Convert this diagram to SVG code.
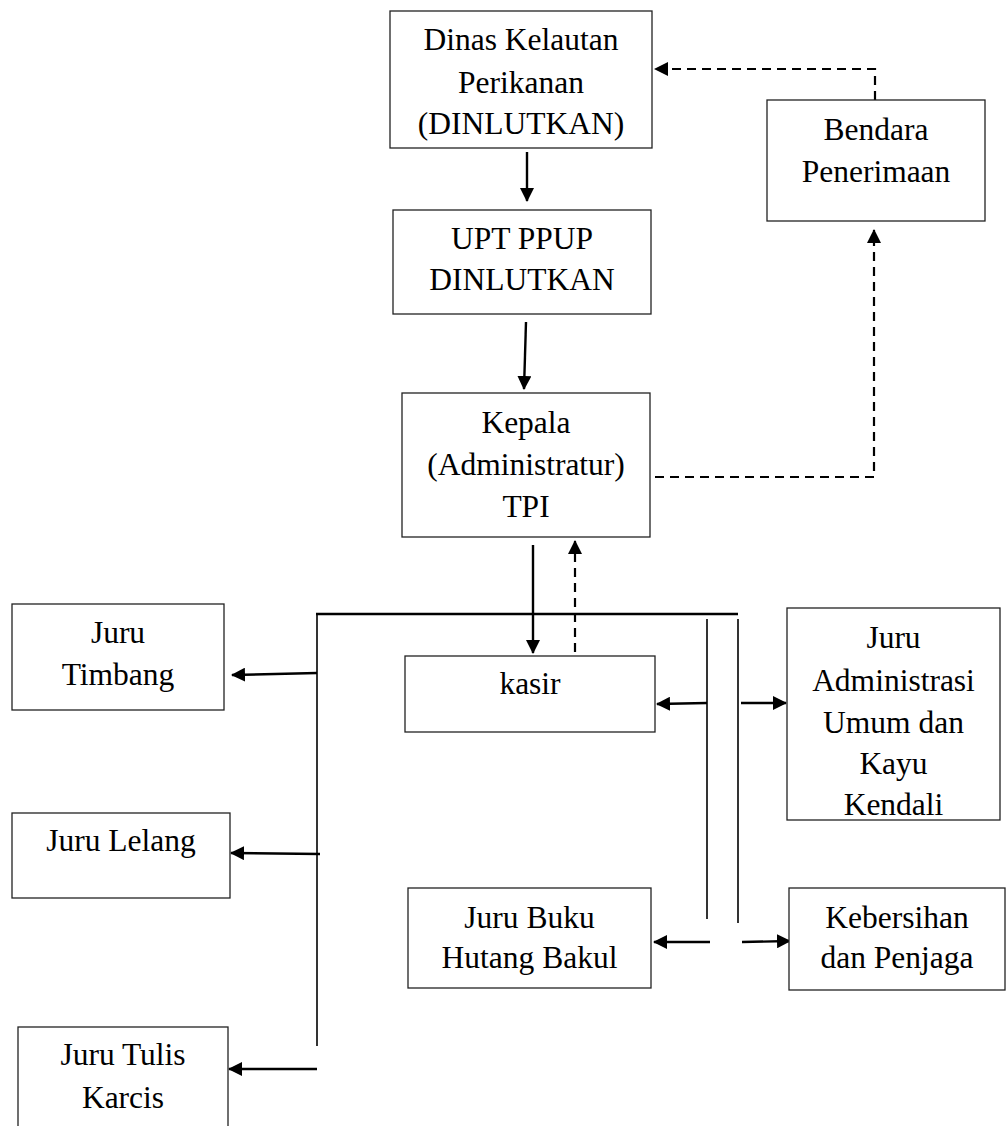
<svg xmlns="http://www.w3.org/2000/svg" width="1006" height="1126" viewBox="0 0 1006 1126">
<style>
.box{fill:#fff;stroke:#222;stroke-width:1.3}
.t{font-family:"Liberation Serif","Times New Roman",serif;font-size:31.5px;fill:#000;text-anchor:middle}
.c{fill:none;stroke:#000;stroke-width:2.4}
.thin{fill:none;stroke:#000;stroke-width:1.6}
.d{fill:none;stroke:#000;stroke-width:2.2;stroke-dasharray:9 6}
</style>
<defs>
<marker id="ah" markerUnits="userSpaceOnUse" markerWidth="14" markerHeight="14" refX="13" refY="7" orient="auto">
<path d="M0,0 L14,7 L0,14 Z" fill="#000"/>
</marker>
</defs>
<rect width="1006" height="1126" fill="#fff"/>
<g id="connectors">
<line class="c" x1="527" y1="152" x2="527" y2="201" marker-end="url(#ah)"/>
<line class="c" x1="526" y1="322" x2="524" y2="389" marker-end="url(#ah)"/>
<line class="c" x1="533" y1="545" x2="533" y2="653" marker-end="url(#ah)"/>
<line class="d" x1="575" y1="652" x2="575" y2="541" marker-end="url(#ah)"/>
<polyline class="d" points="655,477 874,477 874,230" marker-end="url(#ah)"/>
<polyline class="d" points="875,100 875,69 655,69" marker-end="url(#ah)"/>
<line class="c" x1="316" y1="614" x2="738" y2="614"/>
<line class="thin" x1="317" y1="614" x2="317" y2="1046"/>
<line class="c" x1="317" y1="673" x2="232" y2="675" marker-end="url(#ah)"/>
<line class="c" x1="320" y1="854" x2="231" y2="853" marker-end="url(#ah)"/>
<line class="c" x1="317" y1="1069" x2="229" y2="1069" marker-end="url(#ah)"/>
<line class="thin" x1="707" y1="619" x2="707" y2="919"/>
<line class="thin" x1="738" y1="619" x2="738" y2="923"/>
<line class="c" x1="707" y1="703" x2="657" y2="704" marker-end="url(#ah)"/>
<line class="c" x1="741" y1="703" x2="786" y2="703" marker-end="url(#ah)"/>
<line class="c" x1="710" y1="942" x2="654" y2="942" marker-end="url(#ah)"/>
<line class="c" x1="742" y1="942" x2="790" y2="941" marker-end="url(#ah)"/>
</g>
<g id="dinas">
<rect class="box" x="390" y="11" width="262" height="137"/>
<text class="t" x="521" y="50">Dinas Kelautan</text>
<text class="t" x="521" y="93">Perikanan</text>
<text class="t" x="521" y="134">(DINLUTKAN)</text>
</g>
<g id="upt">
<rect class="box" x="393" y="210" width="258" height="104"/>
<text class="t" x="522" y="249">UPT PPUP</text>
<text class="t" x="522" y="290">DINLUTKAN</text>
</g>
<g id="kepala">
<rect class="box" x="402" y="393" width="248" height="144"/>
<text class="t" x="526" y="433">Kepala</text>
<text class="t" x="526" y="475">(Administratur)</text>
<text class="t" x="526" y="517">TPI</text>
</g>
<g id="bendara">
<rect class="box" x="767" y="100" width="218" height="121"/>
<text class="t" x="876" y="140">Bendara</text>
<text class="t" x="876" y="182">Penerimaan</text>
</g>
<g id="timbang">
<rect class="box" x="12" y="604" width="212" height="106"/>
<text class="t" x="118" y="643">Juru</text>
<text class="t" x="118" y="685">Timbang</text>
</g>
<g id="lelang">
<rect class="box" x="12" y="813" width="218" height="85"/>
<text class="t" x="121" y="851">Juru Lelang</text>
</g>
<g id="tulis">
<rect class="box" x="18" y="1027" width="210" height="110"/>
<text class="t" x="123" y="1065">Juru Tulis</text>
<text class="t" x="123" y="1108">Karcis</text>
</g>
<g id="kasir">
<rect class="box" x="405" y="656" width="250" height="76"/>
<text class="t" x="530" y="694">kasir</text>
</g>
<g id="administrasi">
<rect class="box" x="787" y="608" width="213" height="212"/>
<text class="t" x="893.5" y="648">Juru</text>
<text class="t" x="893.5" y="691">Administrasi</text>
<text class="t" x="893.5" y="733">Umum dan</text>
<text class="t" x="893.5" y="774">Kayu</text>
<text class="t" x="893.5" y="815">Kendali</text>
</g>
<g id="bukuhutang">
<rect class="box" x="408" y="888" width="243" height="100"/>
<text class="t" x="529.5" y="928">Juru Buku</text>
<text class="t" x="529.5" y="968">Hutang Bakul</text>
</g>
<g id="kebersihan">
<rect class="box" x="789" y="888" width="216" height="102"/>
<text class="t" x="897" y="928">Kebersihan</text>
<text class="t" x="897" y="968">dan Penjaga</text>
</g>
</svg>
